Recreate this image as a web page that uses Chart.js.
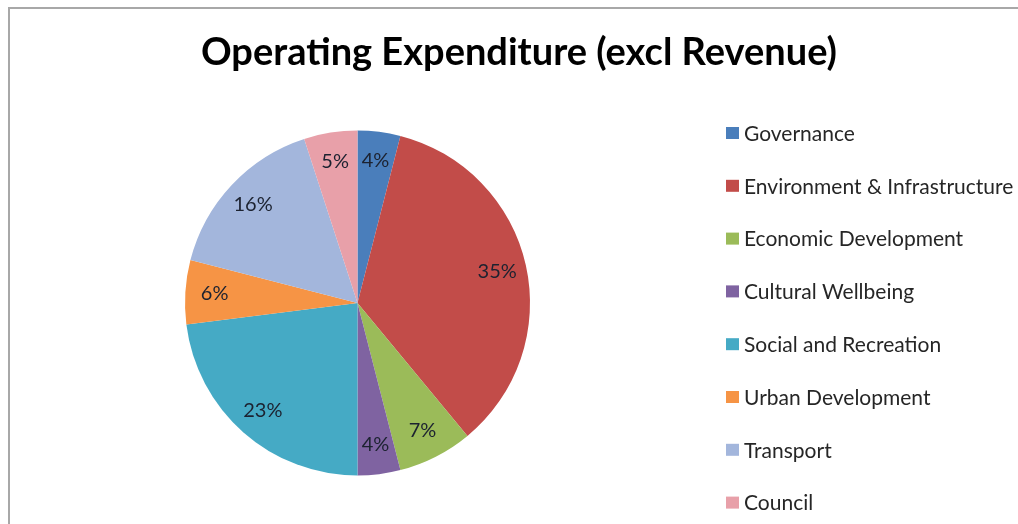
<!DOCTYPE html>
<html>
<head>
<meta charset="utf-8">
<script src="https://cdn.jsdelivr.net/npm/chart.js@4"></script>
<style>
  html, body { margin: 0; padding: 0; background: #ffffff; }
  #wrap { position: relative; width: 1018px; height: 524px; overflow: hidden; }
  #frame { position: absolute; left: 8px; top: 7px; width: 1100px; height: 600px;
           border-top: 2px solid #a8a8a8; border-left: 2px solid #a8a8a8; box-sizing: border-box; }
  canvas { position: absolute; left: 0; top: 0; }
</style>
</head>
<body>
<div id="wrap">
  <div id="frame"></div>
  <canvas id="c" width="1018" height="524"></canvas>
</div>
<script>
const chartTitle = "Operating Expenditure (excl Revenue)";
const categories = [
  "Governance",
  "Environment & Infrastructure",
  "Economic Development",
  "Cultural Wellbeing",
  "Social and Recreation",
  "Urban Development",
  "Transport",
  "Council"
];
const shares = [4, 35, 7, 4, 23, 6, 16, 5];
const sliceColors = ["#4a7ebb", "#c24c49", "#9bbb59", "#7f63a1", "#45aac5", "#f69445", "#a3b6dc", "#e8a0a9"];

const overlayPlugin = {
  id: "overlay",
  afterDatasetsDraw(chart) {
    const ctx = chart.ctx;
    const meta = chart.getDatasetMeta(0);
    const ds = chart.data.datasets[0];
    ctx.save();
    ctx.font = "20px Lato, 'Open Sans', sans-serif";
    ctx.fillStyle = "#1c2230";
    ctx.textAlign = "center";
    ctx.textBaseline = "middle";
    meta.data.forEach((arc, i) => {
      const p = arc.getProps(["x", "y", "startAngle", "endAngle", "outerRadius"], true);
      const mid = (p.startAngle + p.endAngle) / 2;
      const r = p.outerRadius * 0.83;
      ctx.fillText(ds.data[i] + "%", p.x + Math.cos(mid) * r, p.y + Math.sin(mid) * r);
    });
    ctx.restore();
  },
  afterDraw(chart) {
    const ctx = chart.ctx;
    ctx.save();
    // title
    ctx.font = "bold 38px Lato, 'Open Sans', sans-serif";
    ctx.fillStyle = "#000000";
    ctx.textAlign = "center";
    ctx.textBaseline = "middle";
    ctx.fillText(chartTitle, 519, 53);
    // legend
    const ds = chart.data.datasets[0];
    ctx.font = "21px Lato, 'Open Sans', sans-serif";
    ctx.textAlign = "left";
    chart.data.labels.forEach((lab, i) => {
      const y = 133 + i * 52.8;
      ctx.fillStyle = ds.backgroundColor[i];
      ctx.fillRect(726, y - 6, 13, 12);
      ctx.fillStyle = "#262626";
      ctx.fillText(lab, 744, y + 1);
    });
    ctx.restore();
  }
};

new Chart(document.getElementById("c"), {
  type: "pie",
  data: {
    labels: categories,
    datasets: [{
      data: shares,
      backgroundColor: sliceColors,
      borderWidth: 0
    }]
  },
  options: {
    responsive: false,
    animation: false,
    layout: { padding: { left: 185, right: 488, top: 130.5, bottom: 48.5 } },
    plugins: {
      legend: { display: false },
      title: { display: false },
      tooltip: { enabled: false }
    }
  },
  plugins: [overlayPlugin]
});
</script>
</body>
</html>
